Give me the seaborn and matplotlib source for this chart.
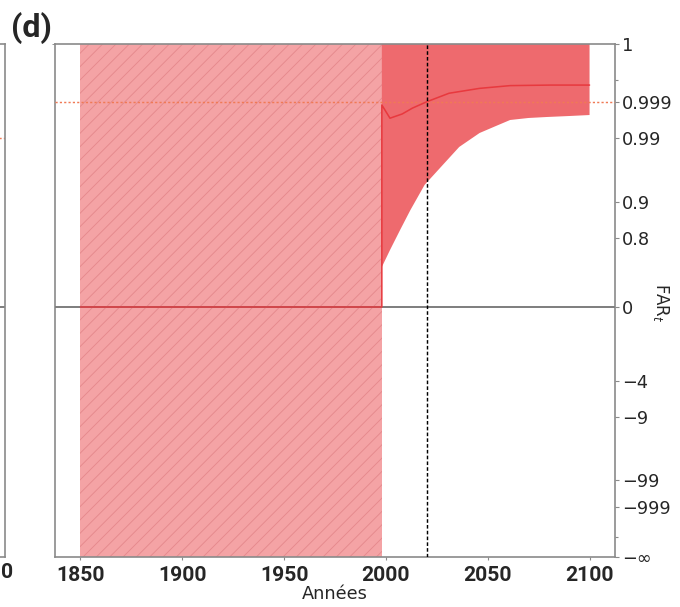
import numpy as np
import pandas as pd
import matplotlib
matplotlib.use("Agg")
import matplotlib.pyplot as plt
import seaborn as sns
from matplotlib.ticker import FixedLocator, FixedFormatter, NullFormatter

# ---------------- data ----------------
FAR_TOP = 1.0            # FAR = 1
FAR_BOTTOM = 1.0 - 1e12  # stands for FAR = -inf
hist_years = [1850, 1998]                 # hatched period
hist_lower = [FAR_BOTTOM, FAR_BOTTOM]
hist_upper = [FAR_TOP, FAR_TOP]

band_years = [1998, 2002, 2007, 2012, 2019, 2027, 2036, 2046, 2054, 2061, 2070, 2079, 2090, 2100]
band_lower = [0.606, 0.735, 0.829, 0.883, 0.946, 0.9716, 0.9862, 0.99274, 0.99535,
              0.99684, 0.99722, 0.99739, 0.99755, 0.99770]
band_upper = [FAR_TOP] * len(band_years)

median_years = [1850, 1998, 1998, 2002, 2008, 2013, 2020, 2031, 2046, 2061, 2081, 2100]
median_far = [0.0, 0.0, 0.99879, 0.99718, 0.99785, 0.99852, 0.99902, 0.99960, 0.99976,
              0.99982, 0.99983, 0.99983]

ref_far = 0.999
year_now = 2020
zero_far = 0.0

xtick_values = [1850, 1900, 1950, 2000, 2050, 2100]
ytick_values = [1.0, 0.999, 0.99, 0.9, 0.8, 0.0, -4, -9, -99, -999, FAR_BOTTOM]
ytick_labels = ["1", "0.999", "0.99", "0.9", "0.8", "0", "\u22124", "\u22129", "\u221299",
                "\u2212999", "\u2212\u221e"]
yminor_values = [0.9999, -9999]

# ---------------- FAR axis scale (log of risk ratio, compressed) ----------------
_KL = np.array([-12, -4, -3, -2, -1, -np.log10(5), 0, np.log10(5), 1, 2, 3, 4, 12], float)
_KP = np.array([-250, -230, -200, -173, -110, -74, 0, 69, 105, 169, 205, 227, 263], float)


def far_fwd(far):
    far = np.asarray(far, float)
    om = np.clip(1.0 - far, 1e-12, 1e12)
    L = -np.log10(om)
    return np.interp(L, _KL, _KP)


def far_inv(p):
    p = np.asarray(p, float)
    L = np.interp(p, _KP, _KL)
    return 1.0 - 10.0 ** (-L)


# ---------------- style ----------------
sns.set_style("ticks")
plt.rcParams["font.family"] = ["DejaVu Sans"]
plt.rcParams["hatch.linewidth"] = 0.8

DPI = 80
fig = plt.figure(figsize=(680 / DPI, 607 / DPI), dpi=DPI)
W, H = 680.0, 607.0
ax = fig.add_axes([55 / W, 50 / H, 560 / W, 513 / H])
ax.set_yscale("function", functions=(far_fwd, far_inv))

spine_col = "#8a8a8a"
dark_red = "#ee6a6e"
line_red = "#e8393e"
cond_font = ["Roboto", "DejaVu Sans"]

# hatched historical band
ax.fill_between(hist_years, hist_lower, hist_upper, facecolor="#f4a3a5",
                edgecolor="#e5898c", hatch="//", linewidth=0, zorder=1)
# uncertainty band
ax.fill_between(band_years, band_lower, band_upper, facecolor=dark_red,
                edgecolor="none", linewidth=0, zorder=2)

# zero line
ax.axhline(zero_far, color="#808080", lw=1.8, zorder=3)
# reference dotted line
ax.axhline(ref_far, color="#f07a55", lw=1.3, ls=(0, (1.5, 1.5)), zorder=4)

# median
df_med = pd.DataFrame({"year": median_years, "far": median_far})
sns.lineplot(data=df_med, x="year", y="far", estimator=None, sort=False,
             color=line_red, lw=1.4, ax=ax, zorder=5)

# current year
ax.axvline(year_now, color="black", lw=1.3, ls=(0, (2.5, 1.5)), zorder=6)

ax.set_xlim(1837.5, 2112.5)
ax.set_ylim(FAR_BOTTOM, FAR_TOP)

ax.xaxis.set_major_locator(FixedLocator(xtick_values))
ax.set_xticklabels([str(v) for v in xtick_values])
ax.yaxis.set_major_locator(FixedLocator(ytick_values))
ax.yaxis.set_major_formatter(FixedFormatter(ytick_labels))
ax.yaxis.set_minor_locator(FixedLocator(yminor_values))
ax.yaxis.set_minor_formatter(NullFormatter())
ax.yaxis.tick_right()
ax.yaxis.set_label_position("right")

ax.tick_params(axis="y", which="both", right=True, left=False, labelright=True,
               labelleft=False, length=4, width=1.0, color=spine_col, pad=2,
               labelsize=16)
ax.tick_params(axis="y", which="minor", length=3)
ax.tick_params(axis="x", length=3, width=1.0, color=spine_col, pad=5)
for lab in ax.get_xticklabels():
    lab.set_family(cond_font)
    lab.set_fontweight("bold")
    lab.set_fontsize(19)

for s in ax.spines.values():
    s.set_color(spine_col)
    s.set_linewidth(1.5)

# small left tick at zero
ax_l = ax.secondary_yaxis("left")
ax_l.set_yticks([zero_far])
ax_l.set_yticklabels([""])
ax_l.tick_params(length=3, color=spine_col)
ax_l.spines["left"].set_visible(False)

ax.set_xlabel("Ann\u00e9es", fontsize=16, labelpad=0)
ax.set_ylabel("FAR$_t$", fontsize=15, rotation=270, labelpad=18)
ax.yaxis.set_label_coords(1.1, 0.495)

# sliver of the neighbouring panel at the left edge
ax0 = fig.add_axes([-0.3, 50 / H, 0.3 + 5 / W, 513 / H])
ax0.set_yscale("function", functions=(far_fwd, far_inv))
ax0.set_ylim(FAR_BOTTOM, FAR_TOP)
ax0.axhline(zero_far, color="#808080", lw=1.8)
ax0.axhline(0.99, color="#f07a55", lw=1.3, ls=(0, (1.5, 1.5)))
ax0.set_xlim(1837.5, 2112.5)
ax0.set_xticks([])
ax0.set_yticks([])
for s in ax0.spines.values():
    s.set_color(spine_col)
    s.set_linewidth(1.5)
fig.text(0.5 / W, 1 - 572 / H, "0", fontsize=19, fontweight="bold", family=cond_font,
         ha="left", va="center")

fig.text(11 / W, 1 - 28 / H, "(d)", fontsize=29, fontweight="bold",
         family=cond_font, ha="left", va="center")

fig.savefig("out.png", dpi=DPI)
